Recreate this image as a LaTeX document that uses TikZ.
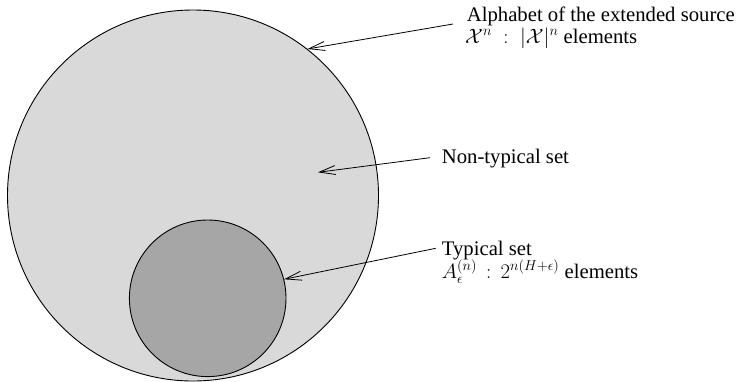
\documentclass[tikz,border=0pt]{standalone}
\usepackage{fontspec}
\setmainfont{Liberation Serif}
\usetikzlibrary{arrows.meta}
\newcommand{\bigmath}[1]{{\fontsize{21.5}{24}\selectfont$#1$}}
\begin{document}
\begin{tikzpicture}[x=1pt,y=-1pt,
  setline/.style={draw=black,line width=0.9pt},
  lbl/.style={anchor=base west,inner sep=0pt,font=\fontsize{20.7}{22}\selectfont},
  ptr/.style={line width=0.8pt,-{Straight Barb[length=16pt,width=9pt,line width=0.8pt]}}]
\useasboundingbox (0,0) rectangle (739,381);
\node[setline,circle,fill={rgb,255:red,217;green,217;blue,217},minimum size=371pt,inner sep=0pt] (big) at (193,195.5) {};
\node[setline,circle,fill={rgb,255:red,166;green,166;blue,166},minimum size=156.6pt,inner sep=0pt] (small) at (207.7,298.3) {};
\node[lbl] (alpha1) at (466.7,21) {Alphabet of the extended source};
\node[lbl] (alpha2) at (465,43) {\bigmath{\mathcal{X}^n \;:\; |\mathcal{X}|^n} elements};
\node[lbl] (nontyp) at (441.7,163) {Non-typical set};
\node[lbl] (typ1) at (441.7,255.5) {Typical set};
\node[lbl] (typ2) at (441.7,278.5) {\bigmath{A_\epsilon^{(n)} \,:\, 2^{n(H+\epsilon)}} elements};
\coordinate (s1) at (453,24);
\coordinate (s2) at (430,157.7);
\coordinate (e2) at (318,172.3);
\coordinate (s3) at (435.7,248.3);
\draw[ptr] (s1) -- (big.52.4);
\draw[ptr] (s2) -- (e2);
\draw[ptr] (s3) -- (small.14);
\end{tikzpicture}
\end{document}
